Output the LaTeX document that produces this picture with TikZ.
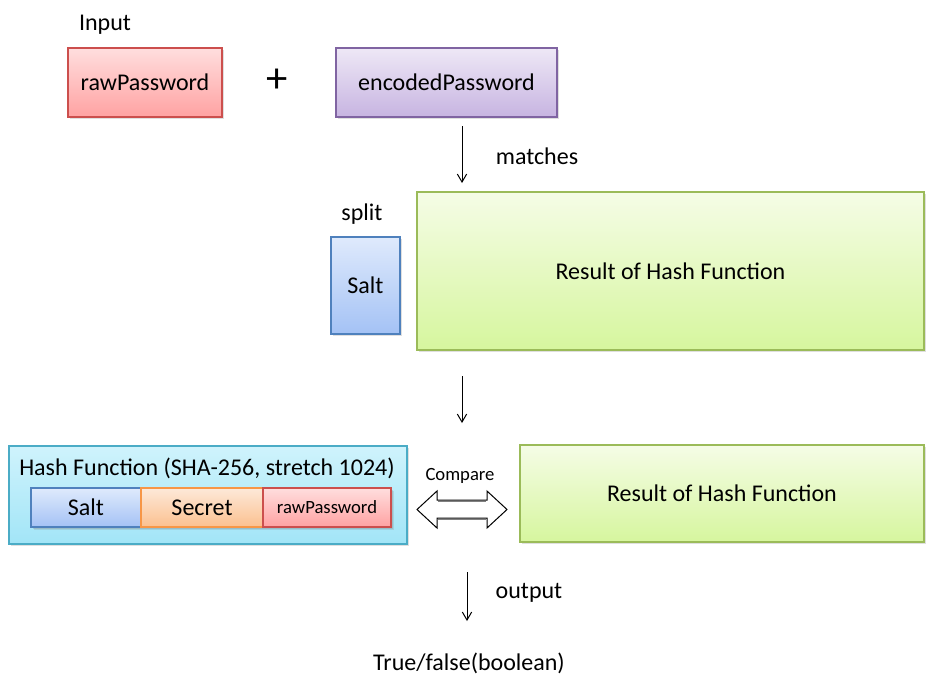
\documentclass[tikz,border=0pt]{standalone}
\usepackage{fontspec}
\setmainfont{Carlito}
\usetikzlibrary{arrows.meta,shadows}

\definecolor{redline}{HTML}{CC4F4D}
\definecolor{redtop}{HTML}{FFDEDE}
\definecolor{redbot}{HTML}{FFA2A2}
\definecolor{purpline}{HTML}{8064A2}
\definecolor{purptop}{HTML}{EEE8F6}
\definecolor{purpbot}{HTML}{C7B4E1}
\definecolor{blueline}{HTML}{4F81BD}
\definecolor{bluetop}{HTML}{DFEAFC}
\definecolor{bluebot}{HTML}{A4C2F5}
\definecolor{greenline}{HTML}{9BBB59}
\definecolor{greentop}{HTML}{F5FCE6}
\definecolor{greenbot}{HTML}{D6F69E}
\definecolor{cyanline}{HTML}{4BACC6}
\definecolor{cyantop}{HTML}{CFF3FC}
\definecolor{cyanbot}{HTML}{A2E5F7}
\definecolor{orangeline}{HTML}{F79646}
\definecolor{orangetop}{HTML}{FDE9D9}
\definecolor{orangebot}{HTML}{FBC08F}

\tikzset{
    boxsize/.style 2 args = {minimum width=#1*0.75pt, minimum height=#2*0.75pt},
    box/.style = {rectangle, inner sep=0pt, line width=0.9pt,
        drop shadow={shadow xshift=1.5pt, shadow yshift=-1.5pt, opacity=0.25},
        font=\fontsize{18}{22}\selectfont},
    redbox/.style = {box, draw=redline, top color=redtop, bottom color=redbot},
    purpbox/.style = {box, draw=purpline, top color=purptop, bottom color=purpbot},
    bluebox/.style = {box, draw=blueline, top color=bluetop, bottom color=bluebot},
    greenbox/.style = {box, draw=greenline, top color=greentop, bottom color=greenbot},
    cyanbox/.style = {box, draw=cyanline, top color=cyantop, bottom color=cyanbot},
    orangebox/.style = {box, draw=orangeline, top color=orangetop, bottom color=orangebot},
    label/.style = {font=\fontsize{18}{22}\selectfont, inner sep=0pt, yshift=-1.5pt},
    arr/.style = {line width=0.75pt, -{Straight Barb[length=6pt, width=7pt]}}
}

\begin{document}
\begin{tikzpicture}[x=0.75pt, y=-0.75pt]
    \useasboundingbox (0,0) rectangle (931,694);

    % input row
    \node[label] (input) at (105,23) {Input};
    \node[redbox, boxsize={154}{69}] (raw) at (145,82.5) {rawPassword};
    \node[font=\fontsize{32}{36}\selectfont, inner sep=0pt] (plus) at (277,81) {+};
    \node[purpbox, boxsize={221}{69}] (enc) at (446.5,82.5) {encodedPassword};

    % split result
    \node[label] (split) at (362,212) {split};
    \node[bluebox, boxsize={69}{97}] (salt) at (365.5,285.5) {Salt};
    \node[greenbox, boxsize={507}{158}] (res) at (670.5,271) {Result of Hash Function};

    % hash function
    \node[cyanbox, boxsize={398}{98}] (hash) at (208,495) {};
    \node[label] (hashtitle) at (207,466) {Hash Function (SHA-256, stretch 1024)};
    \node[bluebox, boxsize={110}{39}, drop shadow={opacity=0.2}] (hsalt) at (86,507.5) {Salt};
    \node[orangebox, boxsize={122}{39}, drop shadow={opacity=0.2}] (hsecret) at (202,507.5) {Secret};
    \node[redbox, boxsize={128}{39}, drop shadow={opacity=0.2},
        font=\fontsize{14}{17}\selectfont] (hraw) at (327,507.5) {rawPassword};
    \node[greenbox, boxsize={404}{97}] (res2) at (722,493.5) {Result of Hash Function};

    % compare
    \node[font=\fontsize{14}{17}\selectfont, inner sep=0pt, yshift=-1pt] (compare) at (460,475) {Compare};
    \draw[line width=0.75pt, fill=white]
        (417,509.5) -- (437,491) -- (437,500) -- (487,500) -- (487,491) -- (507,509.5)
        -- (487,528) -- (487,518) -- (437,518) -- (437,528) -- cycle;
    \draw[gray, line width=1pt] (438,501.5) -- (486,501.5);
    \draw[gray, line width=1pt] (438,519.5) -- (486,519.5);

    % arrows
    \coordinate (m1) at (462,126);
    \coordinate (m2) at (462,183);
    \draw[arr] (m1) -- (m2);
    \node[label] (matches) at (537,154) {matches};

    \coordinate (d1) at (462,376);
    \coordinate (d2) at (462,423);
    \draw[arr] (d1) -- (d2);

    \coordinate (o1) at (467,572);
    \coordinate (o2) at (467,621);
    \draw[arr] (o1) -- (o2);
    \node[label] (output) at (529,591) {output};
    \node[label] (result) at (469,661) {True/false(boolean)};

\end{tikzpicture}
\end{document}
